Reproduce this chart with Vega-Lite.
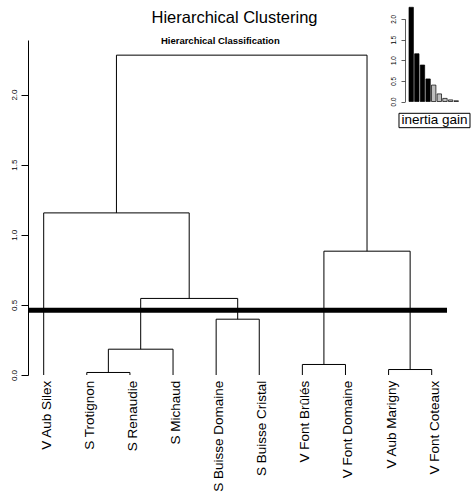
{
  "$schema": "https://vega.github.io/schema/vega-lite/v6.json",
  "width": 419,
  "height": 335,
  "autosize": {"type": "none"},
  "padding": {"left": 28, "top": 40, "right": 25, "bottom": 118},
  "background": "white",
  "title": {"text": "Hierarchical Clustering", "fontSize": 16.5, "fontWeight": "normal", "font": "Liberation Sans", "color": "black", "anchor": "middle", "dx": -3, "baseline": "alphabetic", "offset": -33},
  "config": {"view": {"stroke": null}, "font": "Liberation Sans", "text": {"font": "Liberation Sans", "color": "black"}},
  "datasets": {
    "merges": [
      {"id": 1, "lx": 2, "lh": 0, "rx": 3, "rh": 0, "h": 0.018},
      {"id": 2, "lx": 2.5, "lh": 0.018, "rx": 4, "rh": 0, "h": 0.184},
      {"id": 3, "lx": 5, "lh": 0, "rx": 6, "rh": 0, "h": 0.398},
      {"id": 4, "lx": 3.25, "lh": 0.184, "rx": 5.5, "rh": 0.398, "h": 0.546},
      {"id": 5, "lx": 1, "lh": 0, "rx": 4.375, "rh": 0.546, "h": 1.156},
      {"id": 6, "lx": 7, "lh": 0, "rx": 8, "rh": 0, "h": 0.075},
      {"id": 7, "lx": 9, "lh": 0, "rx": 10, "rh": 0, "h": 0.039},
      {"id": 8, "lx": 7.5, "lh": 0.075, "rx": 9.5, "rh": 0.039, "h": 0.883},
      {"id": 9, "lx": 2.6875, "lh": 1.156, "rx": 8.5, "rh": 0.883, "h": 2.281}
    ],
    "leaves": [
      {"pos": 1, "leaf": "V Aub Silex"},
      {"pos": 2, "leaf": "S Trotignon"},
      {"pos": 3, "leaf": "S Renaudie"},
      {"pos": 4, "leaf": "S Michaud"},
      {"pos": 5, "leaf": "S Buisse Domaine"},
      {"pos": 6, "leaf": "S Buisse Cristal"},
      {"pos": 7, "leaf": "V Font Brûlés"},
      {"pos": 8, "leaf": "V Font Domaine"},
      {"pos": 9, "leaf": "V Aub Marigny"},
      {"pos": 10, "leaf": "V Font Coteaux"}
    ],
    "gain": [
      {"k": 1, "gain": 2.281, "grp": "kept"},
      {"k": 2, "gain": 1.156, "grp": "kept"},
      {"k": 3, "gain": 0.883, "grp": "kept"},
      {"k": 4, "gain": 0.546, "grp": "kept"},
      {"k": 5, "gain": 0.398, "grp": "other"},
      {"k": 6, "gain": 0.184, "grp": "other"},
      {"k": 7, "gain": 0.075, "grp": "other"},
      {"k": 8, "gain": 0.039, "grp": "other"},
      {"k": 9, "gain": 0.018, "grp": "other"}
    ]
  },
  "layer": [
    {
      "layer": [
        {
          "data": {"name": "merges"},
          "mark": {"type": "rule", "color": "black", "strokeWidth": 1},
          "encoding": {
            "x": {"field": "lx", "type": "quantitative", "scale": {"domain": [0.6358, 10.355], "nice": false, "zero": false, "padding": 0}, "axis": null},
            "x2": {"field": "rx"},
            "y": {"field": "h", "type": "quantitative", "scale": {"domain": [0, 2.389], "nice": false, "zero": false, "padding": 0},
              "axis": {"values": [0, 0.5, 1, 1.5, 2], "format": ".1f", "labelAngle": 270, "labelAlign": "center", "labelBaseline": "alphabetic", "labelFontSize": 8, "labelFont": "Liberation Sans", "labelPadding": 5, "tickSize": 7, "tickColor": "black", "domainColor": "black", "labelColor": "black", "grid": false, "title": null}}
          }
        },
        {
          "data": {"name": "merges"},
          "mark": {"type": "rule", "color": "black", "strokeWidth": 1},
          "encoding": {
            "x": {"field": "lx", "type": "quantitative"},
            "y": {"field": "lh", "type": "quantitative"},
            "y2": {"field": "h"}
          }
        },
        {
          "data": {"name": "merges"},
          "mark": {"type": "rule", "color": "black", "strokeWidth": 1},
          "encoding": {
            "x": {"field": "rx", "type": "quantitative"},
            "y": {"field": "rh", "type": "quantitative"},
            "y2": {"field": "h"}
          }
        },
        {
          "data": {"values": [{"cut": 0.462}]},
          "mark": {"type": "rule", "color": "black", "strokeWidth": 5},
          "encoding": {"y": {"field": "cut", "type": "quantitative"}}
        },
        {
          "data": {"name": "leaves"},
          "mark": {"type": "text", "angle": 270, "align": "right", "baseline": "middle", "dx": -5.7, "dy": 3, "fontSize": 13.5},
          "encoding": {
            "x": {"field": "pos", "type": "quantitative"},
            "y": {"datum": 0, "type": "quantitative"},
            "text": {"field": "leaf"}
          }
        },
        {
          "data": {"values": [{"label": "Hierarchical Classification"}]},
          "mark": {"type": "text", "fontWeight": "bold", "fontSize": 9.5, "align": "center", "baseline": "alphabetic"},
          "encoding": {
            "x": {"datum": 5.0965, "type": "quantitative"},
            "y": {"datum": 2.36, "type": "quantitative"},
            "text": {"field": "label"}
          }
        }
      ]
    },
    {
      "layer": [
        {
          "data": {"name": "gain"},
          "mark": {"type": "bar", "width": 4.4, "stroke": "black", "strokeWidth": 0.7},
          "encoding": {
            "x": {"field": "k", "type": "quantitative", "scale": {"domain": [1, 9], "range": [383.2, 428.2], "nice": false, "zero": false, "padding": 0}, "axis": null},
            "y": {"field": "gain", "type": "quantitative", "scale": {"domain": [0, 2], "range": [61.5, -21.1], "nice": false, "padding": 0},
              "axis": {"orient": "left", "offset": -377, "values": [0, 0.5, 1, 1.5, 2], "format": ".1f", "labelAngle": 270, "labelAlign": "center", "labelBaseline": "alphabetic", "labelFontSize": 6.3, "labelFont": "Liberation Sans", "labelPadding": 6, "tickSize": 4, "grid": false, "title": null, "domainColor": "#333333", "tickColor": "#333333", "domainWidth": 0.8, "tickWidth": 0.8, "labelColor": "black"}},
            "y2": {"datum": 0},
            "fill": {"field": "grp", "type": "nominal", "scale": {"domain": ["kept", "other"], "range": ["black", "#bebebe"]}, "legend": null}
          }
        },
        {
          "data": {"values": [{"label": "inertia gain"}]},
          "mark": {"type": "rect", "fill": "white", "stroke": "black", "strokeWidth": 1},
          "encoding": {
            "x": {"datum": -1.169, "type": "quantitative"},
            "x2": {"datum": 11.453},
            "y": {"datum": -0.286, "type": "quantitative"},
            "y2": {"datum": -0.634}
          }
        },
        {
          "data": {"values": [{"label": "inertia gain"}]},
          "mark": {"type": "text", "fontSize": 13.5, "align": "center", "baseline": "alphabetic"},
          "encoding": {
            "x": {"datum": 5.14, "type": "quantitative"},
            "y": {"datum": -0.545, "type": "quantitative"},
            "text": {"field": "label"}
          }
        }
      ]
    }
  ],
  "resolve": {"scale": {"x": "independent", "y": "independent", "fill": "independent"}}
}
